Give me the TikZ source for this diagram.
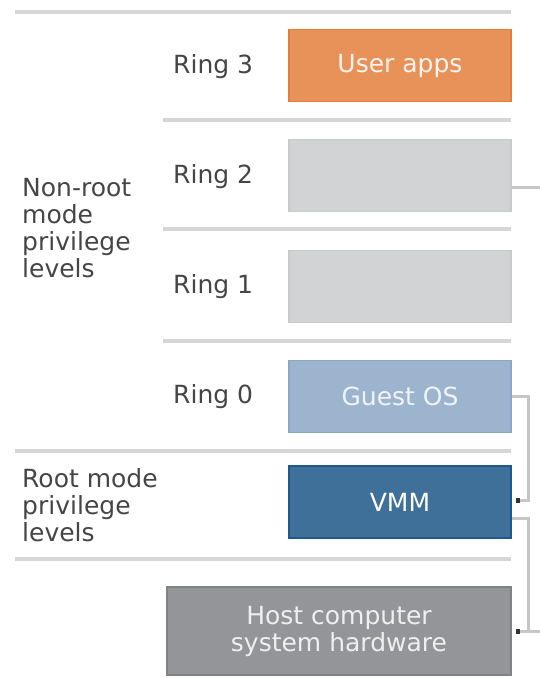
\documentclass[tikz,border=0pt]{standalone}
\usepackage{fontspec}
\setmainfont{DejaVu Sans}
\usepackage{xcolor}
\usepackage{tikz}
\usetikzlibrary{arrows.meta, positioning, calc}
\definecolor{appsorange}{HTML}{E8925A}
\definecolor{appsedge}{HTML}{E57C3A}
\definecolor{emptygray}{HTML}{D1D3D4}
\definecolor{emptyedge}{HTML}{C8CACB}
\definecolor{guestblue}{HTML}{9DB4CF}
\definecolor{guestedge}{HTML}{8CA7C5}
\definecolor{vmmblue}{HTML}{3F7099}
\definecolor{vmmedge}{HTML}{1F588A}
\definecolor{hostgray}{HTML}{939598}
\definecolor{hostedge}{HTML}{808285}
\definecolor{sepgray}{HTML}{D6D6D6}
\definecolor{linkgray}{HTML}{C6C6C6}
\definecolor{dotgray}{HTML}{333333}
\definecolor{labelgray}{HTML}{454545}

\begin{document}
\begin{tikzpicture}[x=1pt, y=-1pt,
        box/.style={draw, line width=1.5pt, minimum width=222pt, minimum height=72pt, inner sep=0pt,
            font=\fontsize{25}{27}\selectfont},
        lbl/.style={anchor=west, inner sep=0pt, text=labelgray, align=left,
            font=\fontsize{25}{27}\selectfont},
        sep/.style={line width=3.5pt, draw=sepgray},
        link/.style={line width=3pt, draw=linkgray, shorten >=4pt,
            -{Square[length=4pt, width=5pt, color=dotgray]}}]
        \useasboundingbox (0,0) rectangle (539,679);

        % separators
        \draw[sep] (15,12) -- (511,12);
        \foreach \y in {120, 229, 341}
            \draw[sep] (163,\y) -- (511,\y);
        \draw[sep] (15,451) -- (511,451);
        \draw[sep] (15,559) -- (511,559);

        % ring boxes
        \node[box, fill=appsorange, draw=appsedge, text=white!90!appsorange] (apps) at (400,65.5) {User apps};
        \node[box, fill=emptygray, draw=emptyedge] (ringtwo) at (400,175.5) {};
        \node[box, fill=emptygray, draw=emptyedge] (ringone) at (400,286.5) {};
        \node[box, fill=guestblue, draw=guestedge, text=white!85!guestblue] (guest) at (400,396.5) {Guest OS};
        \node[box, fill=vmmblue, draw=vmmedge, text=white] (vmm) at (400,502) {VMM};
        \node[box, fill=hostgray, draw=hostedge, text=white!85!hostgray, minimum width=344pt,
            minimum height=88pt, align=center] (host) at (339,631) {Host computer\\system hardware};

        % ring labels
        \node[lbl] (lthree) at (173,67) {Ring 3};
        \node[lbl] (ltwo) at (173,177) {Ring 2};
        \node[lbl] (lone) at (173,287) {Ring 1};
        \node[lbl] (lzero) at (173,397) {Ring 0};

        % mode labels
        \node[lbl] (nonroot) at (22,228) {Non-root\\mode\\privilege\\levels};
        \node[lbl] (root) at (22,505) {Root mode\\privilege\\levels};

        % connectors
        \draw[link] ([yshift=-12pt]ringtwo.east) -- ++(30,0) |- (host.east);
        \draw[link] (guest.east) -- ++(17,0) |- ([yshift=2pt]vmm.east);
        \draw[link] ([yshift=-16pt]vmm.east) -- ++(17,0) |- (host.east);
    \end{tikzpicture}
\end{document}
